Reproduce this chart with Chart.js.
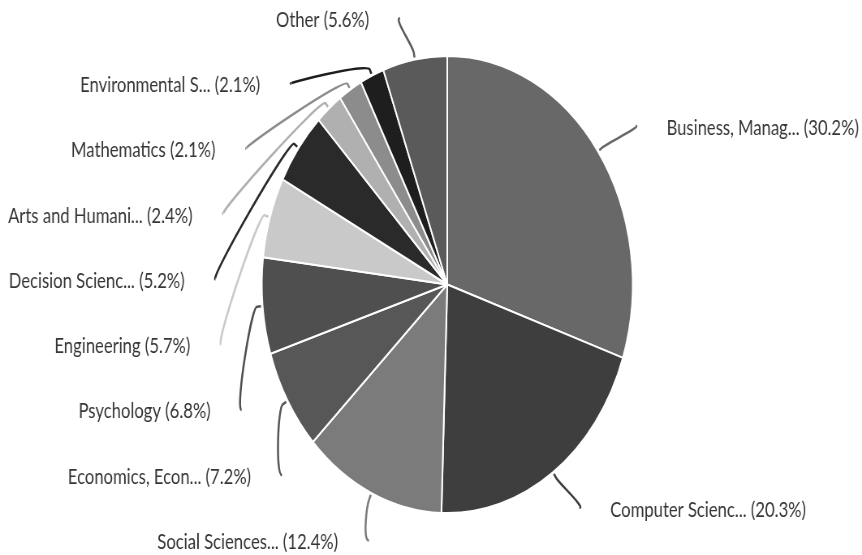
<!DOCTYPE html>
<html>
<head>
<meta charset="utf-8">
<script src="https://cdn.jsdelivr.net/npm/chart.js@4.4.1/dist/chart.umd.min.js"></script>
<style>
  html, body { margin: 0; padding: 0; background: #fff; overflow: hidden; }
  /* chart is drawn wider and squeezed horizontally, so the pie comes out oval */
  #wrap { width: 1062px; height: 555px; transform: scaleX(0.8117); transform-origin: 0 0; }
</style>
</head>
<body>
<div id="wrap"><canvas id="chart"></canvas></div>
<script>
const categories = ['Business, Manag...', 'Computer Scienc...', 'Social Sciences...', 'Economics, Econ...',
  'Psychology', 'Engineering', 'Decision Scienc...', 'Arts and Humani...', 'Mathematics',
  'Environmental S...', 'Other'];
const shares = [30.2, 20.3, 12.4, 7.2, 6.8, 5.7, 5.2, 2.4, 2.1, 2.1, 5.6];
const greys = ['#686868', '#3e3e3e', '#7b7b7b', '#575757', '#4f4f4f', '#c9c9c9',
  '#2a2a2a', '#b0b0b0', '#8c8c8c', '#1e1e1e', '#5a5a5a'];

// labels with curved connector lines, left side labels spread evenly top to bottom
const pieLabels = {
  id: 'pieLabels',
  afterDatasetsDraw(chart) {
    const ctx = chart.ctx;
    const arcs = chart.getDatasetMeta(0).data;
    const cx = arcs[0].x, cy = arcs[0].y, R = arcs[0].outerRadius;
    const ax = R * 1.25, by = R * 1.19;

    const items = arcs.map((arc, i) => {
      const mid = (arc.startAngle + arc.endAngle) / 2;
      return { i, mid, theta: mid + Math.PI / 2 };
    });
    const right = items.filter(it => it.theta < Math.PI);
    const left = items.filter(it => it.theta >= Math.PI);

    right.forEach(it => { it.y = cy - by * Math.cos(it.theta); });
    const top = cy - 1.165 * R, bottom = cy + 1.12 * R;
    const step = (bottom - top) / (left.length - 1);
    left.forEach((it, k) => { it.y = bottom - k * step; });

    ctx.save();
    ctx.font = '20.5px Lato';
    ctx.textBaseline = 'middle';
    items.forEach(it => {
      const side = it.theta < Math.PI ? 1 : -1;
      const dy = it.y - cy;
      const f = Math.sqrt(Math.max(0, 1 - (dy / by) * (dy / by)));
      const x = cx + side * ax * f;
      const cos = Math.cos(it.mid), sin = Math.sin(it.mid);
      const tx = cx + (R + 2) * cos, ty = cy + (R + 2) * sin;
      const bx = cx + (R + 7) * cos, byy = cy + (R + 7) * sin;
      const c2x = cx + (R + 14) * cos, c2y = cy + (R + 14) * sin;

      ctx.strokeStyle = greys[it.i];
      ctx.lineWidth = 2.5;
      ctx.beginPath();
      ctx.moveTo(x, it.y);
      ctx.bezierCurveTo(x + side * 8, it.y, c2x, c2y, bx, byy);
      ctx.lineTo(tx, ty);
      ctx.stroke();

      ctx.fillStyle = '#363636';
      ctx.textAlign = side > 0 ? 'left' : 'right';
      ctx.fillText(categories[it.i] + ' (' + shares[it.i].toFixed(1) + '%)', x + side * 38, it.y + 2);
    });
    ctx.restore();
  }
};

const ctx = document.getElementById('chart').getContext('2d');
const chart = new Chart(ctx, {
  type: 'pie',
  data: {
    labels: categories,
    datasets: [{
      data: shares,
      backgroundColor: greys,
      borderColor: '#ffffff',
      borderWidth: 2
    }]
  },
  options: {
    responsive: true,
    maintainAspectRatio: false,
    animation: false,
    radius: 228.5,
    layout: { padding: { left: 40, top: 14, right: 0, bottom: 0 } },
    plugins: { legend: { display: false }, tooltip: { enabled: false } }
  },
  plugins: [pieLabels]
});
</script>
</body>
</html>
